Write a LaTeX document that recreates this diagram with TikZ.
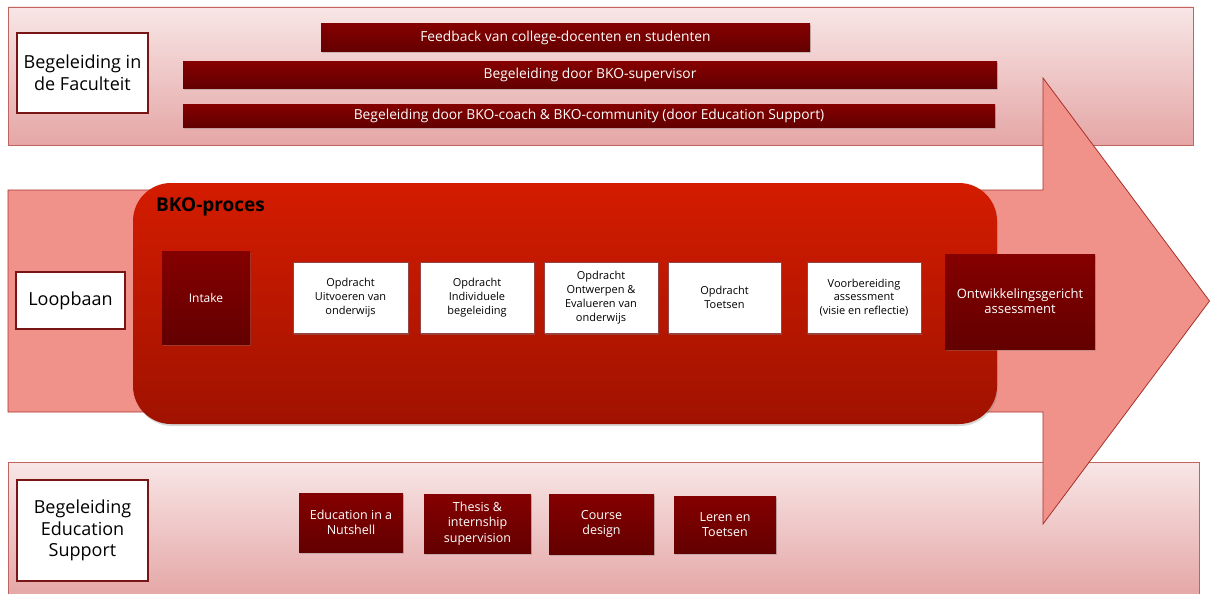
\documentclass[tikz,border=0pt]{standalone}
\usepackage{fontspec}
\setmainfont{Open Sans}
\usepackage{xcolor}
\usetikzlibrary{positioning,shadows}

\definecolor{bandtop}{HTML}{F8E6E6}
\definecolor{bandbot}{HTML}{E5A6A6}
\definecolor{bandrand}{HTML}{C0645F}
\definecolor{pijl}{HTML}{F0928A}
\definecolor{pijlrand}{HTML}{A8322B}
\definecolor{procestop}{HTML}{D41C00}
\definecolor{procesbot}{HTML}{A01200}
\definecolor{donkertop}{HTML}{850000}
\definecolor{donkerbot}{HTML}{630000}
\definecolor{kaderrand}{HTML}{7A1515}

\tikzset{
    band/.style={draw=bandrand, line width=0.8pt, top color=bandtop, bottom color=bandbot},
    kopbox/.style={draw=kaderrand, line width=2.2pt, fill=white, align=center, inner sep=0pt,
        font=\fontsize{18}{21.5}\selectfont},
    balk/.style={top color=donkertop, bottom color=donkerbot, text=white, inner sep=0pt,
        font=\fontsize{13.8}{15}\selectfont, drop shadow={opacity=0.35, shadow xshift=1pt, shadow yshift=-1.5pt}},
    opdracht/.style={draw=kaderrand!80, line width=0.8pt, fill=white, align=center, inner sep=0pt,
        minimum width=114, minimum height=71, font=\fontsize{11}{13.8}\selectfont,
        drop shadow={opacity=0.4, shadow xshift=1pt, shadow yshift=-1.5pt}},
    donker/.style={top color=donkertop, bottom color=donkerbot, text=white, align=center, inner sep=0pt,
        font=\fontsize{12.5}{15.5}\selectfont, drop shadow={opacity=0.35, shadow xshift=1pt, shadow yshift=-1.5pt}}
}

\begin{document}
\begin{tikzpicture}[x=1pt, y=-1pt]
    \useasboundingbox (0,0) rectangle (1210,594);
    \fill[white] (0,0) rectangle (1210,594);

    % achtergrondbanden
    \draw[band] (8,7) rectangle (1193,145);
    \draw[band] (8,462) rectangle (1199,597);

    % grote pijl (loopbaan)
    \draw[pijlrand, fill=pijl, line width=0.8pt, line join=miter]
        (8,190) -- (1043,190) -- (1043,78) -- (1209.5,301) -- (1043,524) -- (1043,412) -- (8,412) -- cycle;

    % BKO-proces
    \shade[top color=procestop, bottom color=procesbot, rounded corners=38,
        drop shadow={opacity=0.3, shadow xshift=1pt, shadow yshift=-2pt}]
        (133,183) rectangle (997,424);
    \node[anchor=north west, inner sep=0pt, font=\fontsize{19}{22}\selectfont\bfseries] (proces) at (156,198) {BKO-proces};

    % labels links
    \node[kopbox, minimum width=131, minimum height=80] (faculteit) at (82.5,73) {Begeleiding in\\de Faculteit};
    \node[kopbox, minimum width=109, minimum height=57] (loopbaan) at (70.5,300.5) {Loopbaan};
    \node[kopbox, minimum width=131, minimum height=101] (support) at (82.5,530.5) {Begeleiding\\Education\\Support};

    % begeleiding in de faculteit
    \node[balk, minimum width=489, minimum height=28] (feedback) at (565.5,38) {Feedback van college-docenten en studenten};
    \node[balk, minimum width=814, minimum height=26] (supervisor) at (590,75) {Begeleiding door BKO-supervisor};
    \node[balk, minimum width=812, minimum height=23] (coach) at (589,115.5) {Begeleiding door BKO-coach \& BKO-community (door Education Support)};

    % stappen in het proces
    \node[donker, minimum width=88, minimum height=93, font=\fontsize{12}{14}\selectfont] (intake) at (206,297.5) {Intake};
    \node[opdracht, minimum width=115] (uitvoeren) at (350.5,297.5) {Opdracht\\Uitvoeren van\\onderwijs};
    \node[opdracht] (individueel) at (477,297.5) {Opdracht\\Individuele\\begeleiding};
    \node[opdracht] (ontwerpen) at (601,297.5) {Opdracht\\Ontwerpen \&\\Evalueren van\\onderwijs};
    \node[opdracht, minimum width=113] (toetsen) at (724.5,297.5) {Opdracht\\Toetsen};
    \node[opdracht] (voorbereiding) at (864,297.5) {Voorbereiding\\assessment\\(visie en reflectie)};
    \node[donker, minimum width=150, minimum height=95, font=\fontsize{13}{15}\selectfont] (assessment) at (1020,301.5) {Ontwikkelingsgericht\\assessment};

    % begeleiding education support
    \node[donker, minimum width=104, minimum height=59] (nutshell) at (351,522.5) {Education in a\\Nutshell};
    \node[donker, minimum width=107, minimum height=59] (thesis) at (477.5,523.5) {Thesis \&\\internship\\supervision};
    \node[donker, minimum width=105, minimum height=60] (course) at (601.5,524) {Course\\design};
    \node[donker, minimum width=102, minimum height=57] (leren) at (725,524.5) {Leren en\\Toetsen};
\end{tikzpicture}
\end{document}
